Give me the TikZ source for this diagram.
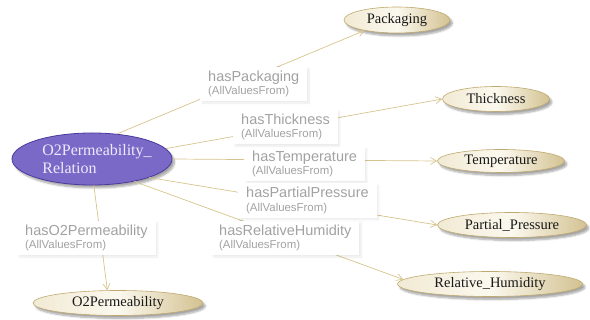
\documentclass[tikz,border=0pt]{standalone}
\usepackage{fontspec}
\setmainfont{Liberation Serif}
\newfontfamily\lblfont{Liberation Sans}
\usetikzlibrary{shapes.geometric,arrows.meta,shadows.blur}
\definecolor{edgec}{HTML}{D6C48C}
\definecolor{clsborder}{HTML}{BFA96E}
\definecolor{clsL}{HTML}{F1EAD4}
\definecolor{clsM}{HTML}{FBF8EE}
\definecolor{clsR}{HTML}{D3C292}
\definecolor{mainfill}{HTML}{7B69C8}
\definecolor{mainborder}{HTML}{4A3A9C}
\definecolor{maintext}{HTML}{EEEAFB}
\definecolor{lblc}{HTML}{A2A2A2}
\begin{document}
\begin{tikzpicture}[x=1pt,y=1pt,
  cls/.style={ellipse, draw=clsborder, line width=0.6pt, inner sep=0pt,
    left color=clsL, right color=clsR, middle color=clsM,
    blur shadow={shadow xshift=2.5pt, shadow yshift=-3pt, shadow opacity=35, shadow blur steps=6},
    font=\fontsize{14.5}{17}\selectfont, text=black!90},
  mainc/.style={ellipse, draw=mainborder, line width=0.8pt, inner sep=0pt,
    fill=mainfill, text=maintext, align=left,
    blur shadow={shadow xshift=2.5pt, shadow yshift=-3pt, shadow opacity=35, shadow blur steps=6},
    font=\fontsize{16}{18.5}\selectfont},
  rel/.style={draw=edgec, line width=0.7pt, -{Straight Barb[length=6pt,width=7pt]}},
  lbl/.style={fill=white, inner xsep=8pt, inner ysep=4pt, anchor=north west, align=left,
    font=\lblfont\fontsize{14.5}{13.5}\selectfont, text=lblc,
    blur shadow={shadow xshift=2pt, shadow yshift=-2pt, shadow opacity=8, shadow blur steps=6}}
]
\useasboundingbox (0,0) rectangle (590,320);

% class nodes
\node[mainc, minimum width=160pt, minimum height=52pt] (main) at (92,161) {\kern5pt O2Permeability\_\kern-5pt\\\kern5pt Relation\kern-5pt};
\node[cls, minimum width=106pt, minimum height=26pt] (pack) at (397,300) {Packaging};
\node[cls, minimum width=107pt, minimum height=25pt] (thick) at (496,221) {Thickness};
\node[cls, minimum width=127pt, minimum height=23pt] (temp) at (501,159) {Temperature};
\node[cls, minimum width=149pt, minimum height=25pt] (part) at (512,95) {Partial\_Pressure};
\node[cls, minimum width=185pt, minimum height=25pt] (relh) at (490,36) {Relative\_Humidity};
\node[cls, minimum width=170pt, minimum height=25pt] (o2) at (118,17) {O2Permeability};

% connectors
\draw[rel] (main.45) -- (pack.198);
\draw[rel] (main.8.6) -- (thick.180);
\draw[rel] (main.0) -- (temp.180);
\draw[rel] (main.-18) -- (part.180);
\draw[rel] (main.-28.5) -- (relh.177.5);
\draw[rel] (main.-86) -- (o2.130);

% connector labels
\node[lbl] (lpack) at (200,253.5) {hasPackaging\\{\fontsize{11.4}{13.5}\selectfont(AllValuesFrom)}};
\node[lbl] (lthick) at (233,210.2) {hasThickness\\{\fontsize{11.4}{13.5}\selectfont(AllValuesFrom)}};
\node[lbl] (ltemp) at (244,173.5) {hasTemperature\\{\fontsize{11.4}{13.5}\selectfont(AllValuesFrom)}};
\node[lbl] (lpart) at (238,136.8) {hasPartialPressure\\{\fontsize{11.4}{13.5}\selectfont(AllValuesFrom)}};
\node[lbl] (lrelh) at (211,99.5) {hasRelativeHumidity\\{\fontsize{11.4}{13.5}\selectfont(AllValuesFrom)}};
\node[lbl] (lo2) at (17,99.5) {hasO2Permeability\\{\fontsize{11.4}{13.5}\selectfont(AllValuesFrom)}};
\end{tikzpicture}
\end{document}
